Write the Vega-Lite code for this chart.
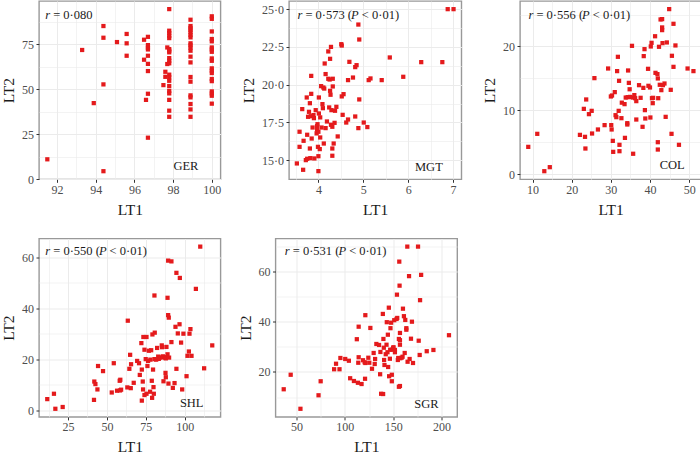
{
"$schema": "https://vega.github.io/schema/vega-lite/v6.json",
"padding": {"left": 0, "top": 0, "right": 0, "bottom": 0},
"background": "white",
"config": {
  "font": "Liberation Serif",
  "view": {"stroke": "#999999", "strokeWidth": 1.4},
  "axis": {"domain": false, "labelFont": "Liberation Serif", "labelFontSize": 12, "labelColor": "#4d4d4d", "titleFont": "Liberation Serif", "titleFontSize": 15.5, "titleFontWeight": "normal", "titleColor": "#1a1a1a", "tickColor": "#333333", "tickSize": 3, "tickWidth": 1, "labelOverlap": false, "labelFlush": false, "gridColor": "#EBEBEB", "tickCount": 100},
  "axisX": {"labelPadding": 2, "titlePadding": 7},
  "axisY": {"labelPadding": 2.5, "titlePadding": 5},
  "text": {"font": "Liberation Serif", "fontSize": 12.5, "color": "#1a1a1a", "baseline": "middle"}
},
"datasets": {
  "GER": [
    {"LT1":91.5,"LT2":11},{"LT1":93.3,"LT2":71.7},{"LT1":93.9,"LT2":42.2},{"LT1":94.4,"LT2":85},{"LT1":94.4,"LT2":78.5},{"LT1":94.4,"LT2":52.6},{"LT1":94.4,"LT2":4.4},{"LT1":95.1,"LT2":76.1},{"LT1":95.6,"LT2":80.6},{"LT1":95.6,"LT2":75.4},{"LT1":95.6,"LT2":68.5},{"LT1":96.5,"LT2":77.4},{"LT1":96.5,"LT2":66.3},{"LT1":96.6,"LT2":44},{"LT1":96.7,"LT2":79},{"LT1":96.7,"LT2":74.4},{"LT1":96.7,"LT2":73},{"LT1":96.7,"LT2":72},{"LT1":96.7,"LT2":68.5},{"LT1":96.7,"LT2":64},{"LT1":96.7,"LT2":60},{"LT1":96.7,"LT2":47.4},{"LT1":96.7,"LT2":23},{"LT1":97.5,"LT2":52.2},{"LT1":97.6,"LT2":59.6},{"LT1":97.6,"LT2":56.8},{"LT1":97.7,"LT2":73.1},{"LT1":97.7,"LT2":63.9},
    {"LT1":97.8,"LT2":94.4},{"LT1":97.8,"LT2":82.4},{"LT1":97.8,"LT2":81.1},{"LT1":97.8,"LT2":79.6},{"LT1":97.8,"LT2":78.3},{"LT1":97.8,"LT2":72.2},{"LT1":97.8,"LT2":71.3},{"LT1":97.8,"LT2":70.4},{"LT1":97.8,"LT2":67.2},{"LT1":97.8,"LT2":65.7},{"LT1":97.8,"LT2":64.3},{"LT1":97.8,"LT2":58},{"LT1":97.8,"LT2":56.5},{"LT1":97.8,"LT2":54.6},{"LT1":97.8,"LT2":51.7},{"LT1":97.8,"LT2":49},{"LT1":97.8,"LT2":47.6},{"LT1":97.8,"LT2":44},{"LT1":97.8,"LT2":38},{"LT1":97.8,"LT2":34.6},
    {"LT1":98.9,"LT2":88.5},{"LT1":98.9,"LT2":85},{"LT1":98.9,"LT2":83.9},{"LT1":98.9,"LT2":82.8},{"LT1":98.9,"LT2":81.5},{"LT1":98.9,"LT2":80},{"LT1":98.9,"LT2":78.7},{"LT1":98.9,"LT2":75.4},{"LT1":98.9,"LT2":74.3},{"LT1":98.9,"LT2":73},{"LT1":98.9,"LT2":71.3},{"LT1":98.9,"LT2":68},{"LT1":98.9,"LT2":64.8},{"LT1":98.9,"LT2":56.7},{"LT1":98.9,"LT2":54.1},{"LT1":98.9,"LT2":46.5},{"LT1":98.9,"LT2":45.4},{"LT1":98.9,"LT2":41.7},{"LT1":98.9,"LT2":38.7},{"LT1":98.9,"LT2":34.6},
    {"LT1":100,"LT2":90.4},{"LT1":100,"LT2":89},{"LT1":100,"LT2":82},{"LT1":100,"LT2":77.8},{"LT1":100,"LT2":76.5},{"LT1":100,"LT2":73.1},{"LT1":100,"LT2":72},{"LT1":100,"LT2":70.7},{"LT1":100,"LT2":67},{"LT1":100,"LT2":65.7},{"LT1":100,"LT2":61.5},{"LT1":100,"LT2":60.2},{"LT1":100,"LT2":58.9},{"LT1":100,"LT2":55.6},{"LT1":100,"LT2":54.4},{"LT1":100,"LT2":48.7},{"LT1":100,"LT2":47.6},{"LT1":100,"LT2":46.3},{"LT1":100,"LT2":41.9}
  ],
  "MGT": [
    {"LT1":3.52,"LT2":14.78},{"LT1":3.66,"LT2":14.36},{"LT1":3.58,"LT2":16.88},{"LT1":3.58,"LT2":15.88},{"LT1":3.64,"LT2":18.38},{"LT1":3.67,"LT2":16.28},{"LT1":3.72,"LT2":15.0},{"LT1":3.75,"LT2":15.09},{"LT1":3.75,"LT2":16.68},{"LT1":3.74,"LT2":19.15},{"LT1":3.77,"LT2":17.87},{"LT1":3.79,"LT2":18.2},{"LT1":3.81,"LT2":18.77},{"LT1":3.81,"LT2":15.77},{"LT1":3.82,"LT2":15.13},{"LT1":3.84,"LT2":20.58},{"LT1":3.84,"LT2":19.39},{"LT1":3.83,"LT2":17.91},{"LT1":3.85,"LT2":16.43},{"LT1":3.87,"LT2":17.16},{"LT1":3.89,"LT2":17.98},{"LT1":3.9,"LT2":17.78},{"LT1":3.91,"LT2":15.11},{"LT1":3.94,"LT2":18.31},{"LT1":3.96,"LT2":16.77},{"LT1":3.97,"LT2":17.25},{"LT1":3.97,"LT2":17.01},{"LT1":3.98,"LT2":17.38},{"LT1":3.99,"LT2":15.88},{"LT1":4.0,"LT2":16.88},{"LT1":4.0,"LT2":14.27},{"LT1":4.0,"LT2":15.26},{"LT1":4.01,"LT2":18.09},{"LT1":4.01,"LT2":19.15},{"LT1":4.03,"LT2":15.73},{"LT1":4.04,"LT2":17.83},{"LT1":4.04,"LT2":16.5},{"LT1":4.06,"LT2":19.9},{"LT1":4.07,"LT2":17.16},{"LT1":4.09,"LT2":18.71},{"LT1":4.1,"LT2":18.44},{"LT1":4.11,"LT2":19.81},{"LT1":4.12,"LT2":16.1},{"LT1":4.13,"LT2":19.74},{"LT1":4.14,"LT2":21.4},{"LT1":4.16,"LT2":17.12},{"LT1":4.16,"LT2":20.7},{"LT1":4.19,"LT2":17.56},{"LT1":4.22,"LT2":20.39},{"LT1":4.22,"LT2":22.2},{"LT1":4.24,"LT2":18.49},{"LT1":4.25,"LT2":20.34},{"LT1":4.26,"LT2":21.71},{"LT1":4.26,"LT2":19.59},{"LT1":4.27,"LT2":19.33},{"LT1":4.28,"LT2":17.34},{"LT1":4.28,"LT2":22.5},{"LT1":4.29,"LT2":18.31},{"LT1":4.31,"LT2":17.21},{"LT1":4.31,"LT2":15.29},{"LT1":4.31,"LT2":15.77},{"LT1":4.32,"LT2":20.39},{"LT1":4.32,"LT2":19.88},{"LT1":4.34,"LT2":16.1},{"LT1":4.36,"LT2":17.47},{"LT1":4.37,"LT2":18.27},{"LT1":4.4,"LT2":18.53},{"LT1":4.43,"LT2":16.57},{"LT1":4.51,"LT2":22.68},{"LT1":4.52,"LT2":22.59},{"LT1":4.52,"LT2":19.22},{"LT1":4.56,"LT2":19.37},{"LT1":4.54,"LT2":18.0},{"LT1":4.62,"LT2":17.49},{"LT1":4.66,"LT2":20.3},{"LT1":4.66,"LT2":17.69},{"LT1":4.69,"LT2":21.51},{"LT1":4.77,"LT2":20.47},{"LT1":4.82,"LT2":17.89},{"LT1":4.82,"LT2":21.16},{"LT1":4.85,"LT2":21.29},{"LT1":4.89,"LT2":23.98},{"LT1":4.89,"LT2":17.12},{"LT1":4.91,"LT2":22.99},{"LT1":4.91,"LT2":19.02},{"LT1":5.01,"LT2":17.49},{"LT1":5.09,"LT2":17.19},{"LT1":5.12,"LT2":20.3},{"LT1":5.16,"LT2":20.41},{"LT1":5.41,"LT2":20.3},{"LT1":5.59,"LT2":21.8},{"LT1":5.89,"LT2":20.52},{"LT1":6.29,"LT2":21.49},{"LT1":6.76,"LT2":21.49},{"LT1":6.88,"LT2":25},{"LT1":7.01,"LT2":25}
  ],
  "COL": [
    {"LT1":8.9,"LT2":4.28},{"LT1":11.2,"LT2":6.32},{"LT1":13.0,"LT2":0.47},{"LT1":14.4,"LT2":1.1},{"LT1":22.1,"LT2":6.16},{"LT1":23.1,"LT2":10.23},{"LT1":23.4,"LT2":5.85},{"LT1":23.5,"LT2":4.02},{"LT1":23.7,"LT2":11.7},{"LT1":24.4,"LT2":9.4},{"LT1":25.1,"LT2":9.92},{"LT1":25.2,"LT2":6.37},{"LT1":25.8,"LT2":15.04},{"LT1":26.7,"LT2":7.0},{"LT1":28.4,"LT2":7.68},{"LT1":29.3,"LT2":16.55},{"LT1":30.0,"LT2":12.17},{"LT1":30.1,"LT2":7.68},{"LT1":30.2,"LT2":7.0},{"LT1":30.3,"LT2":12.32},{"LT1":30.5,"LT2":5.22},{"LT1":30.6,"LT2":3.5},{"LT1":31.0,"LT2":12.85},{"LT1":31.2,"LT2":9.24},{"LT1":31.4,"LT2":8.93},{"LT1":31.6,"LT2":16.14},{"LT1":31.8,"LT2":18.38},{"LT1":32.0,"LT2":9.92},{"LT1":32.1,"LT2":14.62},{"LT1":32.2,"LT2":4.6},{"LT1":32.2,"LT2":3.6},{"LT1":32.7,"LT2":8.77},{"LT1":32.8,"LT2":11.2},{"LT1":33.5,"LT2":10.97},{"LT1":33.6,"LT2":5.69},{"LT1":33.8,"LT2":12.0},{"LT1":34.2,"LT2":7.99},{"LT1":34.2,"LT2":7.78},{"LT1":34.3,"LT2":12.06},{"LT1":34.4,"LT2":16.24},{"LT1":34.6,"LT2":14.3},{"LT1":34.8,"LT2":13.3},{"LT1":34.9,"LT2":12.1},{"LT1":35.4,"LT2":20.1},{"LT1":35.6,"LT2":12.0},{"LT1":35.7,"LT2":3.2},{"LT1":36.0,"LT2":12.38},{"LT1":36.2,"LT2":11.9},{"LT1":36.5,"LT2":8.56},{"LT1":36.5,"LT2":11.44},{"LT1":37.2,"LT2":13.94},{"LT1":37.6,"LT2":11.96},{"LT1":38.1,"LT2":7.42},{"LT1":38.3,"LT2":13.52},{"LT1":38.4,"LT2":18.49},{"LT1":38.6,"LT2":19.58},{"LT1":38.7,"LT2":10.03},{"LT1":38.8,"LT2":8.72},{"LT1":39.5,"LT2":16.5},{"LT1":39.6,"LT2":13.84},{"LT1":40.0,"LT2":13.58},{"LT1":40.1,"LT2":8.88},{"LT1":40.2,"LT2":20.0},{"LT1":40.4,"LT2":20.57},{"LT1":40.5,"LT2":11.9},{"LT1":40.7,"LT2":11.12},{"LT1":40.8,"LT2":11.96},{"LT1":41.3,"LT2":21.6},{"LT1":41.4,"LT2":15.87},{"LT1":41.9,"LT2":15.67},{"LT1":42.0,"LT2":14.99},{"LT1":42.0,"LT2":5.01},{"LT1":42.0,"LT2":3.86},{"LT1":42.1,"LT2":11.9},{"LT1":42.3,"LT2":19.95},{"LT1":42.5,"LT2":14.0},{"LT1":42.7,"LT2":24.23},{"LT1":42.9,"LT2":13.16},{"LT1":43.1,"LT2":24.28},{"LT1":43.1,"LT2":22.98},{"LT1":43.1,"LT2":22.56},{"LT1":43.2,"LT2":20.52},{"LT1":43.3,"LT2":13.94},{"LT1":43.7,"LT2":14.2},{"LT1":44.0,"LT2":8.98},{"LT1":44.3,"LT2":20.63},{"LT1":44.9,"LT2":25.85},{"LT1":45.3,"LT2":13.21},{"LT1":45.5,"LT2":6.32},{"LT1":45.6,"LT2":18.54},{"LT1":46.0,"LT2":23.55},{"LT1":46.0,"LT2":16.81},{"LT1":46.5,"LT2":20.16},{"LT1":47.4,"LT2":4.6},{"LT1":49.6,"LT2":16.55},{"LT1":51.1,"LT2":16.14}
  ],
  "SHL": [
    {"LT1":11.7,"LT2":4.3},{"LT1":16.0,"LT2":6.4},{"LT1":16.9,"LT2":0.5},{"LT1":21.6,"LT2":1.2},{"LT1":41.7,"LT2":4.0},{"LT1":41.9,"LT2":11.2},{"LT1":42.6,"LT2":10.2},{"LT1":43.9,"LT2":8.1},{"LT1":44.3,"LT2":17.3},{"LT1":47.5,"LT2":15.3},{"LT1":53.1,"LT2":6.9},{"LT1":54.4,"LT2":18.4},{"LT1":56.5,"LT2":7.6},{"LT1":58.2,"LT2":11.5},{"LT1":58.4,"LT2":7.7},{"LT1":58.6,"LT2":11.9},{"LT1":59.1,"LT2":8.0},{"LT1":63.1,"LT2":8.9},{"LT1":63.4,"LT2":35.1},{"LT1":64.4,"LT2":16.2},{"LT1":64.9,"LT2":21.7},{"LT1":65.3,"LT2":8.6},{"LT1":65.5,"LT2":18.0},{"LT1":67.2,"LT2":10.7},{"LT1":69.4,"LT2":19.3},{"LT1":70.6,"LT2":18.4},{"LT1":71.1,"LT2":13.8},{"LT1":72.1,"LT2":26.3},{"LT1":72.4,"LT2":15.9},{"LT1":72.4,"LT2":3.7},{"LT1":73.0,"LT2":11.2},{"LT1":73.2,"LT2":8.1},{"LT1":73.4,"LT2":28.7},{"LT1":74.1,"LT2":23.7},{"LT1":74.1,"LT2":5.9},{"LT1":74.9,"LT2":20.0},{"LT1":75.4,"LT2":28.7},{"LT1":75.4,"LT2":6.4},{"LT1":76.0,"LT2":17.3},{"LT1":76.4,"LT2":19.3},{"LT1":76.9,"LT2":23.3},{"LT1":77.7,"LT2":7.2},{"LT1":77.9,"LT2":19.8},{"LT1":78.4,"LT2":23.5},{"LT1":78.8,"LT2":11.5},{"LT1":79.0,"LT2":4.8},{"LT1":80.5,"LT2":45.0},{"LT1":79.2,"LT2":29.7},{"LT1":79.6,"LT2":15.9},{"LT1":79.9,"LT2":9.0},{"LT1":80.1,"LT2":6.4},{"LT1":80.5,"LT2":20.0},{"LT1":80.7,"LT2":30.4},{"LT1":81.6,"LT2":19.8},{"LT1":82.2,"LT2":24.4},{"LT1":82.9,"LT2":21.0},{"LT1":83.3,"LT2":20.1},{"LT1":83.9,"LT2":20.6},{"LT1":85.2,"LT2":25.4},{"LT1":85.4,"LT2":24.7},{"LT1":85.6,"LT2":20.7},{"LT1":85.9,"LT2":21.1},{"LT1":86.3,"LT2":11.3},{"LT1":88.9,"LT2":44.1},{"LT1":89.3,"LT2":37.3},{"LT1":89.7,"LT2":36.3},{"LT1":87.1,"LT2":20.7},{"LT1":87.6,"LT2":20.7},{"LT1":87.6,"LT2":14.6},{"LT1":87.8,"LT2":12.9},{"LT1":87.8,"LT2":20.3},{"LT1":88.2,"LT2":24.8},{"LT1":89.3,"LT2":58.7},{"LT1":88.9,"LT2":21.9},{"LT1":89.5,"LT2":10.4},{"LT1":89.9,"LT2":20.6},{"LT1":91.4,"LT2":58.4},{"LT1":91.4,"LT2":26.7},{"LT1":92.3,"LT2":8.7},{"LT1":93.4,"LT2":10.6},{"LT1":94.0,"LT2":32.7},{"LT1":94.6,"LT2":53.9},{"LT1":94.6,"LT2":16.2},{"LT1":95.5,"LT2":30.1},{"LT1":96.6,"LT2":33.7},{"LT1":96.8,"LT2":51.9},{"LT1":97.6,"LT2":26.5},{"LT1":98.3,"LT2":8.1},{"LT1":99.1,"LT2":30.0},{"LT1":101.1,"LT2":13.3},{"LT1":101.7,"LT2":21.3},{"LT1":102.6,"LT2":23.0},{"LT1":103.0,"LT2":30.0},{"LT1":103.6,"LT2":31.8},{"LT1":104.3,"LT2":21.3},{"LT1":107.1,"LT2":47.6},{"LT1":109.9,"LT2":64.2},{"LT1":112.4,"LT2":16.4},{"LT1":117.6,"LT2":25.4}
  ],
  "SGR": [
    {"LT1":36.8,"LT2":13.1},{"LT1":44.0,"LT2":18.9},{"LT1":54.1,"LT2":5.3},{"LT1":72.8,"LT2":10.7},{"LT1":75.0,"LT2":16.3},{"LT1":88.9,"LT2":21.1},{"LT1":90.9,"LT2":23.3},{"LT1":94.5,"LT2":21.1},{"LT1":95.4,"LT2":25.6},{"LT1":100.4,"LT2":25.2},{"LT1":104.2,"LT2":24.5},{"LT1":105.5,"LT2":17.5},{"LT1":109.4,"LT2":16.4},{"LT1":112.4,"LT2":33.1},{"LT1":113.5,"LT2":15.7},{"LT1":113.9,"LT2":23.7},{"LT1":114.3,"LT2":38.1},{"LT1":114.3,"LT2":25.9},{"LT1":117.3,"LT2":15.2},{"LT1":118.8,"LT2":24.7},{"LT1":120.5,"LT2":23.9},{"LT1":120.9,"LT2":17.3},{"LT1":121.2,"LT2":23.6},{"LT1":121.2,"LT2":42.7},{"LT1":124.3,"LT2":25.7},{"LT1":125.3,"LT2":23.7},{"LT1":126.4,"LT2":37.6},{"LT1":128.1,"LT2":21.3},{"LT1":129.8,"LT2":27.6},{"LT1":130.9,"LT2":23.2},{"LT1":131.3,"LT2":25.2},{"LT1":132.6,"LT2":31.2},{"LT1":135.4,"LT2":30.8},{"LT1":136.5,"LT2":19.1},{"LT1":136.8,"LT2":28.0},{"LT1":137.5,"LT2":11.3},{"LT1":139.3,"LT2":43.2},{"LT1":139.6,"LT2":11.2},{"LT1":139.9,"LT2":33.2},{"LT1":140.3,"LT2":29.7},{"LT1":140.6,"LT2":24.8},{"LT1":141.0,"LT2":22.8},{"LT1":142.3,"LT2":27.1},{"LT1":143.1,"LT2":30.9},{"LT1":143.4,"LT2":39.9},{"LT1":144.1,"LT2":27.9},{"LT1":144.5,"LT2":34.9},{"LT1":144.8,"LT2":22.0},{"LT1":145.5,"LT2":45.7},{"LT1":145.8,"LT2":18.3},{"LT1":146.6,"LT2":25.3},{"LT1":146.9,"LT2":28.9},{"LT1":147.2,"LT2":37.5},{"LT1":147.9,"LT2":39.7},{"LT1":148.6,"LT2":18.9},{"LT1":148.6,"LT2":16.3},{"LT1":149.0,"LT2":28.9},{"LT1":150.0,"LT2":29.6},{"LT1":150.3,"LT2":29.9},{"LT1":151.1,"LT2":40.7},{"LT1":151.8,"LT2":28.8},{"LT1":151.8,"LT2":27.9},{"LT1":153.5,"LT2":41.2},{"LT1":153.9,"LT2":50.9},{"LT1":154.2,"LT2":41.6},{"LT1":154.8,"LT2":24.8},{"LT1":155.2,"LT2":25.6},{"LT1":155.9,"LT2":14.1},{"LT1":155.9,"LT2":33.2},{"LT1":156.3,"LT2":64.1},{"LT1":156.6,"LT2":54.5},{"LT1":157.0,"LT2":14.4},{"LT1":157.0,"LT2":35.6},{"LT1":157.0,"LT2":32.7},{"LT1":157.0,"LT2":30.9},{"LT1":157.3,"LT2":25.5},{"LT1":158.7,"LT2":25.7},{"LT1":159.7,"LT2":26.1},{"LT1":160.1,"LT2":45.3},{"LT1":161.1,"LT2":42.3},{"LT1":161.9,"LT2":27.6},{"LT1":162.5,"LT2":40.8},{"LT1":163.6,"LT2":37.5},{"LT1":163.6,"LT2":36.9},{"LT1":164.6,"LT2":70.1},{"LT1":164.9,"LT2":24.1},{"LT1":166.4,"LT2":58.3},{"LT1":167.0,"LT2":25.2},{"LT1":168.4,"LT2":33.3},{"LT1":169.4,"LT2":40.1},{"LT1":170.5,"LT2":23.6},{"LT1":175.7,"LT2":70.1},{"LT1":176.4,"LT2":32.5},{"LT1":177.4,"LT2":26.8},{"LT1":177.8,"LT2":48.7},{"LT1":178.9,"LT2":58.8},{"LT1":184.7,"LT2":28.3},{"LT1":191.6,"LT2":28.8},{"LT1":207.7,"LT2":34.7}
  ]
},
"spacing": 18.5,
"vconcat": [
{"hconcat": [
  {"width": 181.5, "height": 178.3, "layer": [
    {"data": {"name": "GER"}, "mark": {"type": "square", "size": 18, "color": "#E41A1C", "opacity": 1},
     "encoding": {
      "x": {"field": "LT1", "type": "quantitative", "scale": {"domain": [91.07, 100.45], "nice": false, "zero": false},
        "axis": {"values": [92,93,94,95,96,97,98,99,100], "labelExpr": "datum.value % 2 == 0 ? format(datum.value, 'd') : ''",
          "tickOpacity": {"condition": {"test": "datum.value % 2 == 0", "value": 1}, "value": 0},
          "gridWidth": {"condition": {"test": "datum.value % 2 == 0", "value": 1}, "value": 0.6}}},
      "y": {"field": "LT2", "type": "quantitative", "scale": {"domain": [-0.1, 98.9], "nice": false, "zero": false},
        "axis": {"values": [0,12.5,25,37.5,50,62.5,75,87.5], "labelExpr": "datum.value % 25 == 0 ? format(datum.value, 'd') : ''",
          "tickOpacity": {"condition": {"test": "datum.value % 25 == 0", "value": 1}, "value": 0},
          "gridWidth": {"condition": {"test": "datum.value % 25 == 0", "value": 1}, "value": 0.6}}}
     }},
    {"data": {"values": [{}]}, "mark": {"type": "text", "text": "r", "fontStyle": "italic", "align": "left"},
     "encoding": {"x": {"datum": 91.39, "type": "quantitative"}, "y": {"datum": 91.13, "type": "quantitative"}}},
    {"data": {"values": [{}]}, "mark": {"type": "text", "text": "= 0·080", "align": "left", "dx": 8},
     "encoding": {"x": {"datum": 91.39, "type": "quantitative"}, "y": {"datum": 91.13, "type": "quantitative"}}},
    {"data": {"values": [{}]}, "mark": {"type": "text", "text": "GER", "align": "right"},
     "encoding": {"x": {"datum": 99.31, "type": "quantitative"}, "y": {"datum": 7.3, "type": "quantitative"}}}
  ]},
  {"width": 172.4, "height": 178.3, "layer": [
    {"data": {"name": "MGT"}, "mark": {"type": "square", "size": 18, "color": "#E41A1C", "opacity": 1},
     "encoding": {
      "x": {"field": "LT1", "type": "quantitative", "scale": {"domain": [3.345, 7.185], "nice": false, "zero": false},
        "axis": {"values": [3.5,4,4.5,5,5.5,6,6.5,7], "labelExpr": "datum.value % 1 == 0 ? format(datum.value, 'd') : ''",
          "tickOpacity": {"condition": {"test": "datum.value % 1 == 0", "value": 1}, "value": 0},
          "gridWidth": {"condition": {"test": "datum.value % 1 == 0", "value": 1}, "value": 0.6}}},
      "y": {"field": "LT2", "type": "quantitative", "scale": {"domain": [13.73, 25.54], "nice": false, "zero": false},
        "axis": {"values": [15,16.25,17.5,18.75,20,21.25,22.5,23.75,25], "labelExpr": "datum.value % 2.5 == 0 ? replace(format(datum.value, '.1f'), '.', '·') : ''",
          "tickOpacity": {"condition": {"test": "datum.value % 2.5 == 0", "value": 1}, "value": 0},
          "gridWidth": {"condition": {"test": "datum.value % 2.5 == 0", "value": 1}, "value": 0.6}}}
     }},
    {"data": {"values": [{}]}, "mark": {"type": "text", "text": "r", "fontStyle": "italic", "align": "left"},
     "encoding": {"x": {"datum": 3.532, "type": "quantitative"}, "y": {"datum": 24.61, "type": "quantitative"}}},
    {"data": {"values": [{}]}, "mark": {"type": "text", "text": "= 0·573 (", "align": "left", "dx": 8},
     "encoding": {"x": {"datum": 3.532, "type": "quantitative"}, "y": {"datum": 24.61, "type": "quantitative"}}},
    {"data": {"values": [{}]}, "mark": {"type": "text", "text": "P", "fontStyle": "italic", "align": "left", "dx": 53.7},
     "encoding": {"x": {"datum": 3.532, "type": "quantitative"}, "y": {"datum": 24.61, "type": "quantitative"}}},
    {"data": {"values": [{}]}, "mark": {"type": "text", "text": "< 0·01)", "align": "left", "dx": 64.4},
     "encoding": {"x": {"datum": 3.532, "type": "quantitative"}, "y": {"datum": 24.61, "type": "quantitative"}}},
    {"data": {"values": [{}]}, "mark": {"type": "text", "text": "MGT", "align": "right"},
     "encoding": {"x": {"datum": 6.77, "type": "quantitative"}, "y": {"datum": 14.55, "type": "quantitative"}}}
  ]},
  {"width": 181, "height": 178.3, "layer": [
    {"data": {"name": "COL"}, "mark": {"type": "square", "size": 18, "color": "#E41A1C", "opacity": 1},
     "encoding": {
      "x": {"field": "LT1", "type": "quantitative", "scale": {"domain": [6.79, 53.03], "nice": false, "zero": false},
        "axis": {"values": [10,15,20,25,30,35,40,45,50], "labelExpr": "datum.value % 10 == 0 ? format(datum.value, 'd') : ''",
          "tickOpacity": {"condition": {"test": "datum.value % 10 == 0", "value": 1}, "value": 0},
          "gridWidth": {"condition": {"test": "datum.value % 10 == 0", "value": 1}, "value": 0.6}}},
      "y": {"field": "LT2", "type": "quantitative", "scale": {"domain": [-0.8, 27.12], "nice": false, "zero": false},
        "axis": {"values": [0,5,10,15,20,25], "labelExpr": "datum.value % 10 == 0 ? format(datum.value, 'd') : ''",
          "tickOpacity": {"condition": {"test": "datum.value % 10 == 0", "value": 1}, "value": 0},
          "gridWidth": {"condition": {"test": "datum.value % 10 == 0", "value": 1}, "value": 0.6}}}
     }},
    {"data": {"values": [{}]}, "mark": {"type": "text", "text": "r", "fontStyle": "italic", "align": "left"},
     "encoding": {"x": {"datum": 8.94, "type": "quantitative"}, "y": {"datum": 24.93, "type": "quantitative"}}},
    {"data": {"values": [{}]}, "mark": {"type": "text", "text": "= 0·556 (", "align": "left", "dx": 8},
     "encoding": {"x": {"datum": 8.94, "type": "quantitative"}, "y": {"datum": 24.93, "type": "quantitative"}}},
    {"data": {"values": [{}]}, "mark": {"type": "text", "text": "P", "fontStyle": "italic", "align": "left", "dx": 53.7},
     "encoding": {"x": {"datum": 8.94, "type": "quantitative"}, "y": {"datum": 24.93, "type": "quantitative"}}},
    {"data": {"values": [{}]}, "mark": {"type": "text", "text": "< 0·01)", "align": "left", "dx": 64.4},
     "encoding": {"x": {"datum": 8.94, "type": "quantitative"}, "y": {"datum": 24.93, "type": "quantitative"}}},
    {"data": {"values": [{}]}, "mark": {"type": "text", "text": "COL", "align": "right"},
     "encoding": {"x": {"datum": 48.87, "type": "quantitative"}, "y": {"datum": 1.44, "type": "quantitative"}}}
  ]}
], "spacing": 18},
{"hconcat": [
  {"width": 181.5, "height": 178.4, "layer": [
    {"data": {"name": "SHL"}, "mark": {"type": "square", "size": 18, "color": "#E41A1C", "opacity": 1},
     "encoding": {
      "x": {"field": "LT1", "type": "quantitative", "scale": {"domain": [6.4, 122.9], "nice": false, "zero": false},
        "axis": {"values": [12.5,25,37.5,50,62.5,75,87.5,100,112.5], "labelExpr": "datum.value % 25 == 0 ? format(datum.value, 'd') : ''",
          "tickOpacity": {"condition": {"test": "datum.value % 25 == 0", "value": 1}, "value": 0},
          "gridWidth": {"condition": {"test": "datum.value % 25 == 0", "value": 1}, "value": 0.6}}},
      "y": {"field": "LT2", "type": "quantitative", "scale": {"domain": [-2.69, 67.39], "nice": false, "zero": false},
        "axis": {"values": [0,10,20,30,40,50,60], "labelExpr": "datum.value % 20 == 0 ? format(datum.value, 'd') : ''",
          "tickOpacity": {"condition": {"test": "datum.value % 20 == 0", "value": 1}, "value": 0},
          "gridWidth": {"condition": {"test": "datum.value % 20 == 0", "value": 1}, "value": 0.6}}}
     }},
    {"data": {"values": [{}]}, "mark": {"type": "text", "text": "r", "fontStyle": "italic", "align": "left"},
     "encoding": {"x": {"datum": 10.38, "type": "quantitative"}, "y": {"datum": 62.4, "type": "quantitative"}}},
    {"data": {"values": [{}]}, "mark": {"type": "text", "text": "= 0·550 (", "align": "left", "dx": 8},
     "encoding": {"x": {"datum": 10.38, "type": "quantitative"}, "y": {"datum": 62.4, "type": "quantitative"}}},
    {"data": {"values": [{}]}, "mark": {"type": "text", "text": "P", "fontStyle": "italic", "align": "left", "dx": 53.7},
     "encoding": {"x": {"datum": 10.38, "type": "quantitative"}, "y": {"datum": 62.4, "type": "quantitative"}}},
    {"data": {"values": [{}]}, "mark": {"type": "text", "text": "< 0·01)", "align": "left", "dx": 64.4},
     "encoding": {"x": {"datum": 10.38, "type": "quantitative"}, "y": {"datum": 62.4, "type": "quantitative"}}},
    {"data": {"values": [{}]}, "mark": {"type": "text", "text": "SHL", "align": "right"},
     "encoding": {"x": {"datum": 112.0, "type": "quantitative"}, "y": {"datum": 2.7, "type": "quantitative"}}}
  ]},
  {"width": 181.7, "height": 178.4, "layer": [
    {"data": {"name": "SGR"}, "mark": {"type": "square", "size": 18, "color": "#E41A1C", "opacity": 1},
     "encoding": {
      "x": {"field": "LT1", "type": "quantitative", "scale": {"domain": [28.3, 216.2], "nice": false, "zero": false},
        "axis": {"values": [50,75,100,125,150,175,200], "labelExpr": "datum.value % 50 == 0 ? format(datum.value, 'd') : ''",
          "tickOpacity": {"condition": {"test": "datum.value % 50 == 0", "value": 1}, "value": 0},
          "gridWidth": {"condition": {"test": "datum.value % 50 == 0", "value": 1}, "value": 0.6}}},
      "y": {"field": "LT2", "type": "quantitative", "scale": {"domain": [2.06, 73.34], "nice": false, "zero": false},
        "axis": {"values": [10,20,30,40,50,60,70], "labelExpr": "datum.value % 20 == 0 ? format(datum.value, 'd') : ''",
          "tickOpacity": {"condition": {"test": "datum.value % 20 == 0", "value": 1}, "value": 0},
          "gridWidth": {"condition": {"test": "datum.value % 20 == 0", "value": 1}, "value": 0.6}}}
     }},
    {"data": {"values": [{}]}, "mark": {"type": "text", "text": "r", "fontStyle": "italic", "align": "left"},
     "encoding": {"x": {"datum": 37.9, "type": "quantitative"}, "y": {"datum": 68.27, "type": "quantitative"}}},
    {"data": {"values": [{}]}, "mark": {"type": "text", "text": "= 0·531 (", "align": "left", "dx": 8},
     "encoding": {"x": {"datum": 37.9, "type": "quantitative"}, "y": {"datum": 68.27, "type": "quantitative"}}},
    {"data": {"values": [{}]}, "mark": {"type": "text", "text": "P", "fontStyle": "italic", "align": "left", "dx": 53.7},
     "encoding": {"x": {"datum": 37.9, "type": "quantitative"}, "y": {"datum": 68.27, "type": "quantitative"}}},
    {"data": {"values": [{}]}, "mark": {"type": "text", "text": "< 0·01)", "align": "left", "dx": 64.4},
     "encoding": {"x": {"datum": 37.9, "type": "quantitative"}, "y": {"datum": 68.27, "type": "quantitative"}}},
    {"data": {"values": [{}]}, "mark": {"type": "text", "text": "SGR", "align": "right"},
     "encoding": {"x": {"datum": 196.9, "type": "quantitative"}, "y": {"datum": 7.14, "type": "quantitative"}}}
  ]}
], "spacing": 14.5}
]
}
